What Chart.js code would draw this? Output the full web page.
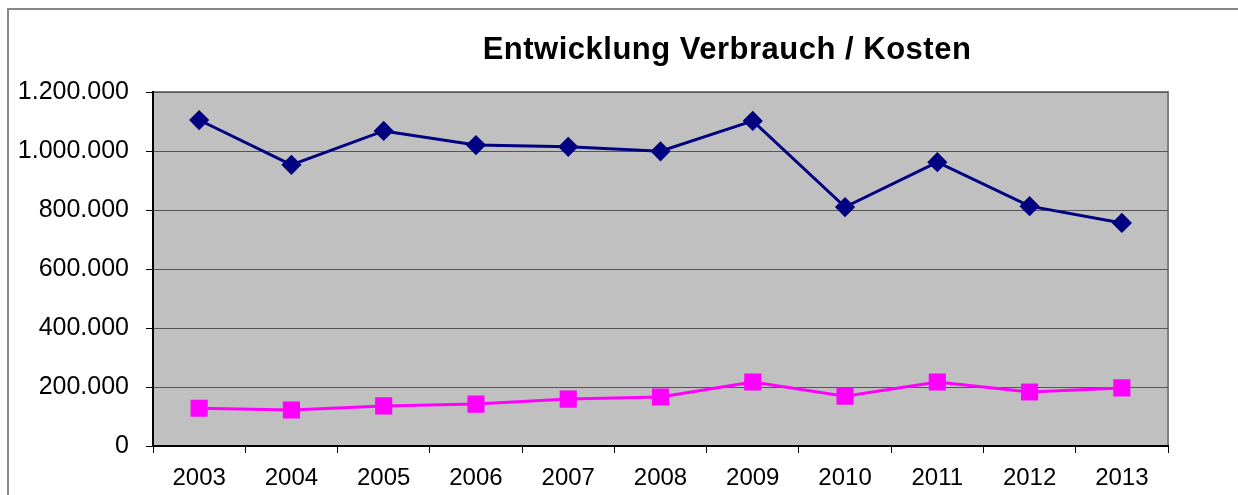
<!DOCTYPE html>
<html>
<head>
<meta charset="utf-8">
<script src="https://cdn.jsdelivr.net/npm/chart.js@4.4.0/dist/chart.umd.min.js"></script>
<style>
  html, body { margin: 0; padding: 0; background: #fff; }
  #wrap { width: 1238px; height: 495px; }
</style>
</head>
<body>
<div id="wrap"><canvas id="linechart" width="1238" height="495"></canvas></div>
<script>
const lineChartCanvas = document.getElementById("linechart");
const lineChartCtx    = lineChartCanvas.getContext('2d');

const navy    = "#000080";
const magenta = "#FF00FF";
const plotBg  = "#C0C0C0";

// years on the x axis
const years = ["2003", "2004", "2005", "2006", "2007", "2008", "2009", "2010", "2011", "2012", "2013"];

// Verbrauch (blue diamonds)
const verbrauch = [1105000, 953000, 1068000, 1020000, 1014000, 999000, 1102000, 810000, 962000, 813000, 756000];

// Kosten (pink squares)
const kosten = [128000, 122000, 136000, 142000, 159000, 166000, 217000, 169000, 217000, 183000, 197000];

const chartTitle = "Entwicklung Verbrauch / Kosten";

// german thousands separator: 1.200.000
function fmt(v) {
  return String(v).replace(/\B(?=(\d{3})+(?!\d))/g, ".");
}

// gray plot area, outer frame and the title
const excelLook = {
  id: 'excelLook',
  beforeDraw(chart) {
    const { ctx, chartArea: a } = chart;
    ctx.save();
    ctx.fillStyle = plotBg;
    ctx.fillRect(a.left, a.top, a.right - a.left, a.bottom - a.top);
    // top / right edge of plot area
    ctx.strokeStyle = "#808080";
    ctx.lineWidth = 2;
    ctx.beginPath();
    ctx.moveTo(a.left, a.top);
    ctx.lineTo(a.right, a.top);
    ctx.lineTo(a.right, a.bottom);
    ctx.stroke();
    // outer chart frame (left + top only, the rest is cut off)
    ctx.strokeStyle = "#888";
    ctx.lineWidth = 2;
    ctx.beginPath();
    ctx.moveTo(8, 495);
    ctx.lineTo(8, 9);
    ctx.lineTo(1238, 9);
    ctx.stroke();
    // title
    ctx.fillStyle = "#000";
    ctx.font = "bold 31px 'Liberation Sans', Arial, sans-serif";
    ctx.letterSpacing = "0.5px";
    ctx.textAlign = "center";
    ctx.textBaseline = "alphabetic";
    ctx.fillText(chartTitle, 727, 59);
    ctx.restore();
  }
};

const lineChartData = {
  labels: years,
  datasets: [
    {
      label: "Verbrauch",
      data: verbrauch,
      borderColor: navy,
      backgroundColor: navy,
      borderWidth: 3,
      pointStyle: 'rectRot',
      pointRadius: 8,
      pointHoverRadius: 8,
      tension: 0
    },
    {
      label: "Kosten",
      data: kosten,
      borderColor: magenta,
      backgroundColor: magenta,
      borderWidth: 3,
      pointStyle: 'rect',
      pointRadius: 10,
      pointHoverRadius: 10,
      tension: 0
    }
  ]
};

const lineChartConfig = {
  type: 'line',
  data: lineChartData,
  plugins: [excelLook],
  options: {
    responsive: false,
    animation: false,
    layout: {
      padding: { top: 92, right: 70, left: 0, bottom: 0 }
    },
    plugins: {
      legend: { display: false },
      title: { display: false },
      tooltip: { enabled: false }
    },
    scales: {
      x: {
        offset: true,
        afterFit(scale) { scale.height = 49; },
        grid: {
          offset: true,
          drawOnChartArea: false,
          drawTicks: true,
          tickLength: 7,
          tickColor: "#000",
          tickWidth: 1
        },
        border: { color: "#000", width: 2 },
        ticks: {
          color: "#000",
          padding: 11,
          maxRotation: 0,
          font: { family: "'Liberation Sans', Arial, sans-serif", size: 24 }
        }
      },
      y: {
        min: 0,
        max: 1200000,
        afterFit(scale) { scale.width = 153; },
        grid: {
          color: "#555",
          lineWidth: 1,
          drawTicks: true,
          tickLength: 7,
          tickColor: "#000"
        },
        border: { color: "#000", width: 2 },
        ticks: {
          stepSize: 200000,
          color: "#000",
          padding: 17,
          callback: (v) => fmt(v),
          font: { family: "'Liberation Sans', Arial, sans-serif", size: 25 }
        }
      }
    }
  }
};

const lineChart = new Chart(lineChartCtx, lineChartConfig);
</script>
</body>
</html>
